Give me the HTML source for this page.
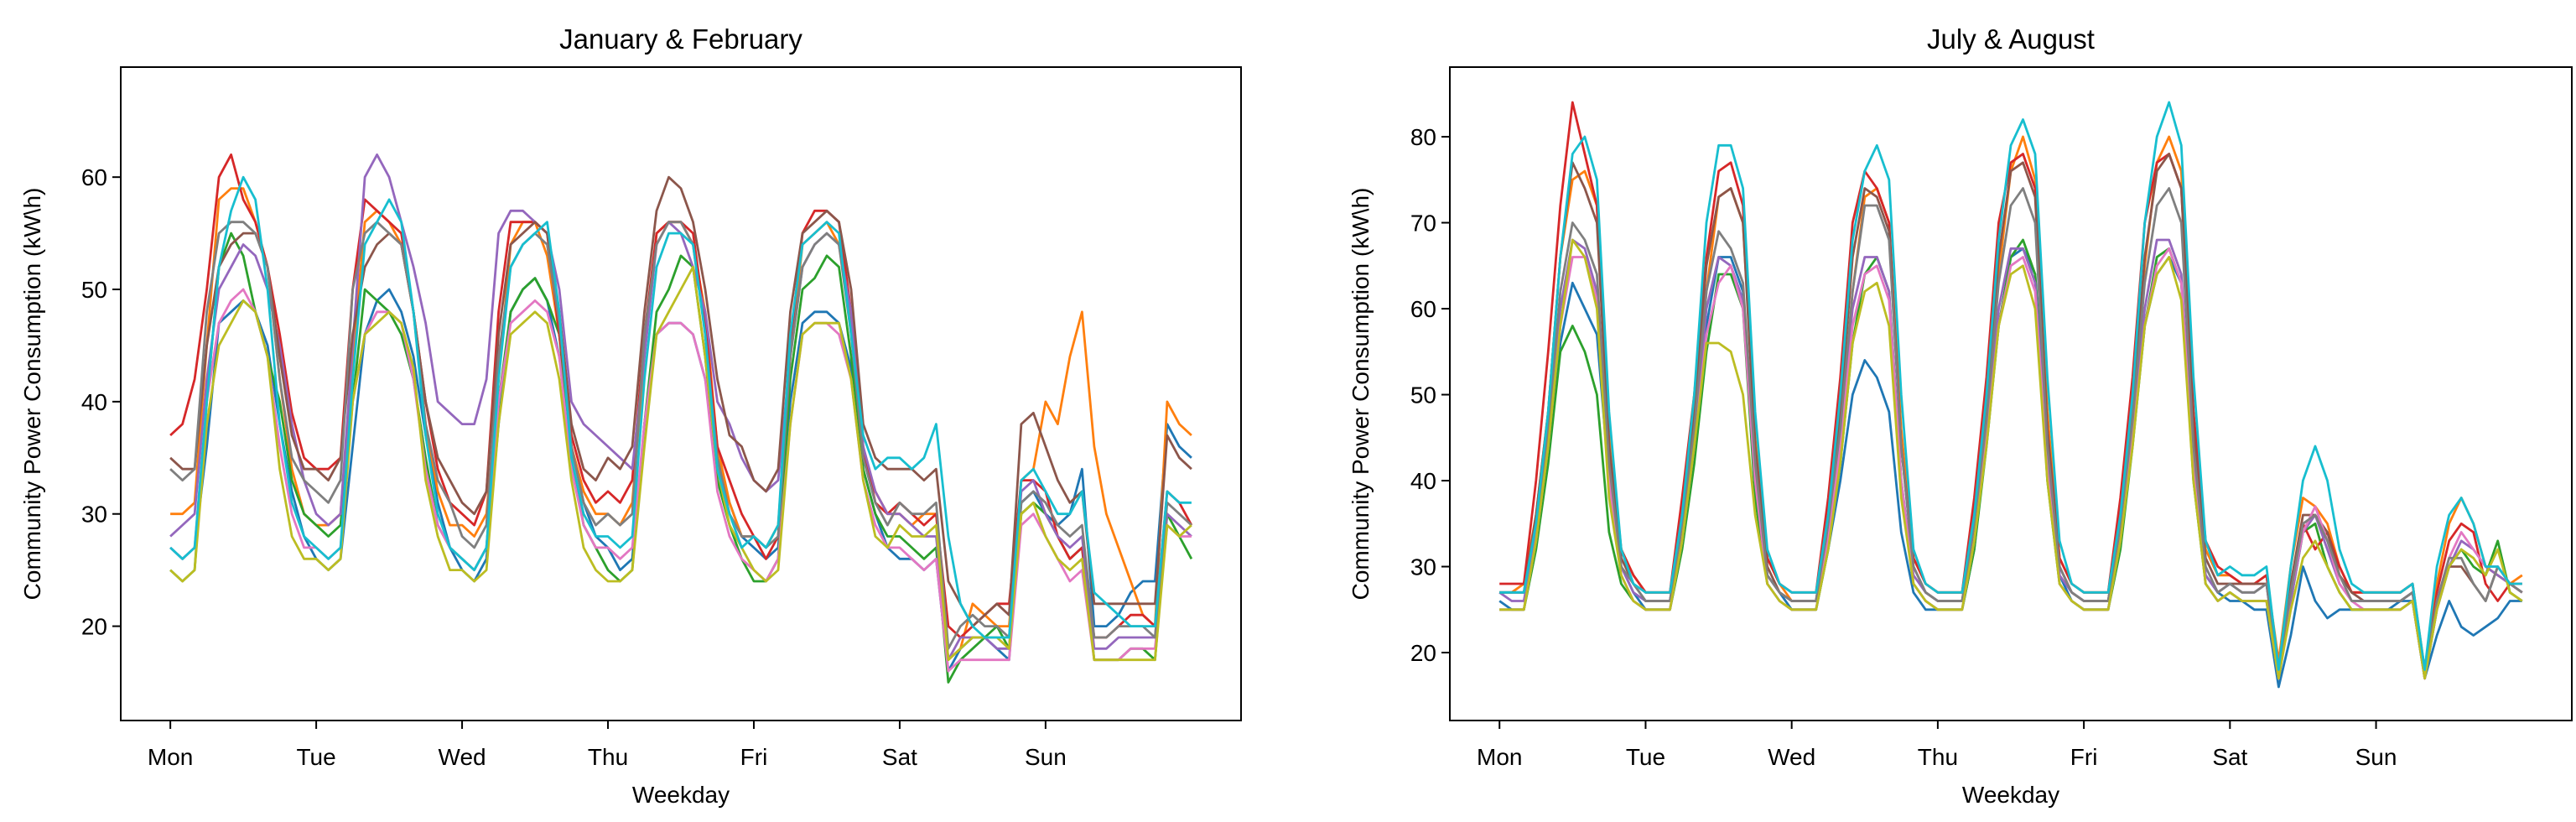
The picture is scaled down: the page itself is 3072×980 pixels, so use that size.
<!DOCTYPE html>
<html><head><meta charset="utf-8"><style>
html,body{margin:0;padding:0;background:#fff;}
svg{display:block;font-family:"Liberation Sans","DejaVu Sans",sans-serif;}
</style></head><body>
<svg id="fig" width="3072" height="980" viewBox="0 0 3072 980" xmlns="http://www.w3.org/2000/svg"></svg>
<script>
// ---- data ----
const dayLabels = ["Mon","Tue","Wed","Thu","Fri","Sat","Sun"];
const colors = ["#1f77b4","#ff7f0e","#2ca02c","#d62728","#9467bd","#8c564b","#e377c2","#7f7f7f","#bcbd22","#17becf"];
const janTicks = [20,30,40,50,60];
const julTicks = [20,30,40,50,60,70,80];
const pointsPerDay = 12;

const janBlue = [27,26,27,36,47,48,49,48,45,38,32,28, 26,25,26,36,46,49,50,48,44,37,31,27, 25,24,26,38,48,50,51,49,44,36,31,28, 27,25,26,38,46,47,47,46,42,35,31,28, 27,26,27,40,47,48,48,47,43,34,30,27, 26,26,25,26,16,18,19,19,18,17,31,32, 30,29,30,34,20,20,21,23,24,24,38,36, 35];
const janOrange = [30,30,31,45,58,59,59,56,52,42,34,30, 29,29,30,44,56,57,56,54,48,38,32,29, 29,28,30,42,54,56,56,53,46,36,32,30, 30,29,31,44,55,56,56,54,48,36,31,28, 28,27,29,44,54,55,56,54,47,35,32,30, 30,29,30,30,17,18,22,21,20,20,33,34, 40,38,44,48,36,30,27,24,21,20,40,38, 37];
const janGreen = [25,24,25,40,52,55,53,48,44,40,33,30, 29,28,29,40,50,49,48,46,42,35,29,27, 26,25,27,40,48,50,51,49,46,35,29,27, 25,24,25,38,48,50,53,52,44,33,29,26, 24,24,26,42,50,51,53,52,44,34,30,28, 28,27,26,27,15,17,18,19,20,18,30,31, 30,28,26,27,17,17,17,18,18,17,30,28, 26];
const janRed = [37,38,42,50,60,62,58,56,52,46,39,35, 34,34,35,50,58,57,56,55,48,40,34,31, 30,29,32,48,56,56,56,55,46,37,33,31, 32,31,33,46,55,56,56,55,47,36,33,30, 28,26,28,45,55,57,57,56,48,36,31,30, 31,30,29,30,20,19,20,21,22,22,33,33, 32,28,26,27,19,19,20,21,21,20,32,31, 29];
const janPurple = [28,29,30,42,50,52,54,53,50,45,38,33, 30,29,30,45,60,62,60,56,52,47,40,39, 38,38,42,55,57,57,56,55,50,40,38,37, 36,35,34,44,54,56,55,52,48,40,38,35, 33,32,33,44,52,54,55,54,48,36,32,30, 30,29,28,28,17,19,19,19,18,18,32,33, 30,28,27,28,18,18,19,19,19,19,30,29, 28];
const janBrown = [35,34,34,45,52,54,55,55,52,44,37,34, 34,33,35,46,52,54,55,54,48,40,35,33, 31,30,32,46,54,55,56,55,48,38,34,33, 35,34,36,48,57,60,59,56,50,42,37,36, 33,32,34,48,55,56,57,56,50,38,35,34, 34,34,33,34,24,22,20,21,22,21,38,39, 36,33,31,32,22,22,22,22,22,22,37,35, 34];
const janPink = [27,26,27,40,47,49,50,48,44,36,30,27, 27,26,27,40,46,48,48,47,42,34,29,27, 26,25,27,40,47,48,49,48,44,34,29,27, 27,26,27,38,46,47,47,46,42,32,28,26, 25,24,26,38,46,47,47,46,42,33,29,27, 27,26,25,26,16,17,17,17,17,17,29,30, 28,26,24,25,17,17,17,18,18,18,29,28, 28];
const janGray = [34,33,34,48,55,56,56,55,52,42,35,33, 32,31,33,50,55,56,55,54,48,38,33,31, 28,27,29,44,52,54,55,54,47,36,31,29, 30,29,30,46,54,56,56,54,46,35,30,28, 28,27,28,44,52,54,55,54,46,35,31,29, 31,30,30,31,18,20,21,20,20,19,31,32, 31,29,28,29,19,19,20,20,20,19,31,30, 29];
const janOlive = [25,24,25,38,45,47,49,48,44,34,28,26, 26,25,26,40,46,47,48,47,43,33,28,25, 25,24,25,38,46,47,48,47,42,33,27,25, 24,24,25,36,46,48,50,52,44,34,29,27, 25,24,25,38,46,47,47,47,42,33,28,27, 29,28,28,29,17,18,19,19,19,18,30,31, 28,26,25,26,17,17,17,17,17,17,29,28, 29];
const janCyan = [27,26,27,40,52,57,60,58,50,38,31,28, 27,26,27,42,54,56,58,56,48,37,30,27, 26,25,27,42,52,54,55,56,48,35,30,28, 28,27,28,42,52,55,55,54,46,34,30,27, 28,27,29,46,54,55,56,55,46,37,34,35, 35,34,35,38,28,22,20,19,19,19,33,34, 32,30,30,32,23,22,21,20,20,20,32,31, 31];

const julBlue = [26,25,25,33,44,56,63,60,57,40,30,27, 25,25,25,33,45,58,66,66,62,42,29,27, 25,25,25,32,40,50,54,52,48,34,27,25, 25,25,25,32,45,58,66,67,64,44,29,26, 25,25,25,33,45,58,64,66,63,44,29,27, 26,26,25,25,16,22,30,26,24,25,25,25, 25,25,26,26,17,22,26,23,22,23,24,26, 26];
const julOrange = [27,27,28,36,48,66,75,76,72,46,32,29, 27,27,27,35,47,62,73,74,70,45,31,28, 26,26,26,35,46,62,73,74,70,46,31,28, 27,27,27,36,48,64,76,80,75,48,31,28, 27,27,27,36,48,65,77,80,76,48,32,29, 29,28,28,29,19,30,38,37,35,30,27,27, 27,27,27,28,18,28,35,38,35,30,29,28, 29];
const julGreen = [25,25,25,32,42,55,58,55,50,34,28,26, 25,25,25,32,42,55,64,64,60,38,28,26, 25,25,25,32,42,56,64,66,62,40,28,26, 25,25,25,32,44,58,66,68,64,40,28,26, 25,25,25,32,44,58,66,67,63,40,28,26, 27,26,26,26,17,26,34,35,30,27,25,25, 25,25,25,26,17,25,30,32,30,29,33,27, 26];
const julRed = [28,28,28,40,55,72,84,78,72,44,32,29, 27,27,27,38,50,66,76,77,72,44,31,28, 27,27,27,38,52,70,76,74,70,44,31,28, 27,27,27,38,52,70,77,78,74,46,31,28, 27,27,27,38,52,70,77,78,74,48,33,30, 29,28,28,29,18,28,35,32,34,30,27,27, 27,27,27,28,17,27,33,35,34,28,26,28, 28];
const julPurple = [27,26,26,34,45,60,68,67,62,40,30,27, 26,26,26,34,45,60,66,65,61,40,29,27, 26,26,26,34,46,60,66,66,62,40,29,27, 26,26,26,34,46,60,67,67,63,42,29,27, 26,26,26,34,46,60,68,68,64,42,29,27, 28,27,27,28,17,26,34,36,32,28,26,26, 26,26,26,27,17,25,30,33,32,30,29,28, 27];
const julBrown = [27,27,27,36,48,66,77,74,70,44,31,28, 26,26,26,35,48,65,73,74,70,44,30,27, 26,26,26,35,48,66,74,73,69,44,30,27, 26,26,26,35,48,66,76,77,73,46,30,27, 26,26,26,35,48,66,76,78,74,46,31,28, 28,28,28,28,18,28,36,36,34,29,27,26, 26,26,26,27,18,26,30,30,28,26,30,28, 27];
const julPink = [25,25,25,33,44,58,66,66,61,40,29,26, 25,25,25,33,44,57,63,65,60,40,28,26, 25,25,25,33,44,58,64,65,61,40,28,26, 25,25,25,33,45,58,65,66,62,41,28,26, 25,25,25,33,45,58,65,67,63,41,28,26, 27,26,26,26,17,27,34,37,33,28,26,25, 25,25,25,26,17,26,31,34,32,30,30,28, 27];
const julGray = [27,27,27,35,46,62,70,68,64,42,30,28, 26,26,26,35,46,62,69,67,63,42,29,27, 26,26,26,35,46,62,72,72,68,44,30,27, 26,26,26,35,47,63,72,74,70,44,30,27, 26,26,26,35,47,63,72,74,70,44,30,27, 28,27,27,28,18,27,35,36,33,29,26,26, 26,26,26,27,18,26,31,31,28,26,30,28, 27];
const julOlive = [25,25,25,33,44,58,68,66,60,38,29,26, 25,25,25,33,44,56,56,55,50,36,28,26, 25,25,25,32,42,56,62,63,58,38,28,26, 25,25,25,33,44,58,64,65,60,40,28,26, 25,25,25,33,44,58,64,66,61,40,28,26, 27,26,26,26,17,25,31,33,30,27,25,25, 25,25,25,26,17,25,30,32,31,29,32,27, 26];
const julCyan = [27,27,27,35,48,66,78,80,75,48,32,28, 27,27,27,36,50,70,79,79,74,48,32,28, 27,27,27,36,50,68,76,79,75,50,32,28, 27,27,27,36,50,68,79,82,78,52,33,28, 27,27,27,36,50,70,80,84,79,52,33,29, 30,29,29,30,18,30,40,44,40,32,28,27, 27,27,27,28,18,30,36,38,35,30,30,28, 28];

const janSeries = [janBlue,janOrange,janGreen,janRed,janPurple,janBrown,janPink,janGray,janOlive,janCyan];
const julSeries = [julBlue,julOrange,julGreen,julRed,julPurple,julBrown,julPink,julGray,julOlive,julCyan];

// ---- drawing ----
const NS = "http://www.w3.org/2000/svg";
const svg = document.getElementById("fig");
function mk(tag, attrs, parent){
  const e = document.createElementNS(NS, tag);
  for (const k in attrs) e.setAttribute(k, attrs[k]);
  (parent||svg).appendChild(e);
  return e;
}

function drawPanel(cfg){
  const g = mk("g", {});
  
  
  const xs = d => cfg.x0 + (d - cfg.xmin) / (cfg.xmax - cfg.xmin) * (cfg.x1 - cfg.x0);
  const ys = v => cfg.y1 - (v - cfg.ymin) / (cfg.ymax - cfg.ymin) * (cfg.y1 - cfg.y0);

  const clipId = cfg.name + "-clip";
  const defs = mk("defs", {}, g);
  const cp = mk("clipPath", {id: clipId}, defs);
  mk("rect", {x: cfg.x0, y: cfg.y0, width: cfg.x1 - cfg.x0, height: cfg.y1 - cfg.y0}, cp);

  const lines = mk("g", {"clip-path": "url(#" + clipId + ")"}, g);
  cfg.series.forEach((arr, si) => {
    let d = "";
    arr.forEach((v, i) => {
      const x = xs(i / pointsPerDay), y = ys(v);
      d += (i ? "L" : "M") + x.toFixed(1) + "," + y.toFixed(1);
    });
    const p = mk("path", {d: d, fill: "none", stroke: colors[si % colors.length], "stroke-width": 2.8, "stroke-linejoin": "round"}, lines);
    
    
  });

  const frame = mk("rect", {x: cfg.x0, y: cfg.y0, width: cfg.x1 - cfg.x0, height: cfg.y1 - cfg.y0, fill: "none", stroke: "#000", "stroke-width": 2}, g);
  
  

  dayLabels.forEach((lab, i) => {
    const x = xs(i);
    mk("line", {x1: x, x2: x, y1: cfg.y1, y2: cfg.y1 + 10, stroke: "#000", "stroke-width": 2}, g);
    const t = mk("text", {x: x, y: 912, "text-anchor": "middle", "font-size": 28, fill: "#000"}, g);
    t.textContent = lab;
    
    
  });
  cfg.ticks.forEach(v => {
    const y = ys(v);
    mk("line", {x1: cfg.x0 - 10, x2: cfg.x0, y1: y, y2: y, stroke: "#000", "stroke-width": 2}, g);
    const t = mk("text", {x: cfg.x0 - 16, y: y + 10, "text-anchor": "end", "font-size": 28, fill: "#000"}, g);
    t.textContent = v;
    
    
  });
  const cx = (cfg.x0 + cfg.x1) / 2;
  const title = mk("text", {x: cx, y: 58, "text-anchor": "middle", "font-size": 33, fill: "#000"}, g);
  title.textContent = cfg.title;
  
  
  const xl = mk("text", {x: cx, y: 957, "text-anchor": "middle", "font-size": 28, fill: "#000"}, g);
  xl.textContent = "Weekday";
  
  
  const yc = (cfg.y0 + cfg.y1) / 2;
  const yl = mk("text", {x: cfg.ylabX, y: yc, "text-anchor": "middle", "font-size": 28, fill: "#000", transform: "rotate(-90 " + cfg.ylabX + " " + yc + ")"}, g);
  yl.textContent = "Community Power Consumption (kW\\h)";
  
  
}

drawPanel({name: "jan-feb-chart", title: "January & February", series: janSeries, ticks: janTicks,
  x0: 144, x1: 1480, y0: 80, y1: 859, xmin: -0.34, xmax: 7.34, ymin: 11.6, ymax: 69.8, ylabX: 48});
drawPanel({name: "jul-aug-chart", title: "July & August", series: julSeries, ticks: julTicks,
  x0: 1729, x1: 3067, y0: 80, y1: 859, xmin: -0.34, xmax: 7.34, ymin: 12.1, ymax: 88.1, ylabX: 1632});
</script>
</body></html>
